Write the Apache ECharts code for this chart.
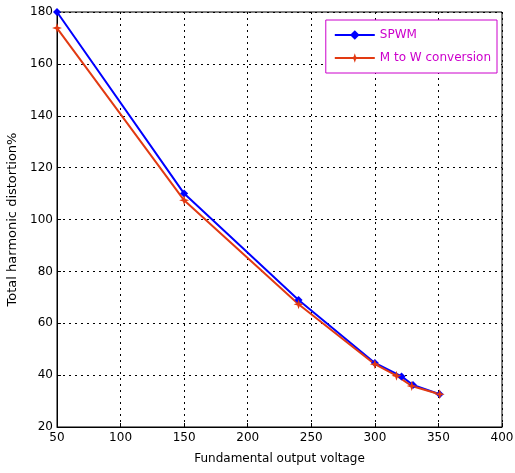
<!DOCTYPE html>
<html>
<head>
<meta charset="utf-8">
<script src="https://cdn.jsdelivr.net/npm/echarts@6/dist/echarts.min.js"></script>
<style>
  html, body { margin: 0; padding: 0; background: #fff; }
  #chart { width: 515px; height: 473px; }
</style>
</head>
<body>
<div id="chart"></div>
<script>
// valores
const voltajeSpwm = [50, 150, 240, 300, 321, 330, 351];
const thdSpwm = [180, 110, 69, 44.7, 39.5, 36.2, 32.6];
const voltajeMW = [50, 150, 240, 300, 317, 329, 351];
const thdMW = [173.8, 107.4, 67.3, 44.2, 39.8, 35.8, 32.6];

const pares = (xs, ys) => xs.map((x, i) => [x, ys[i]]);

var myChart = echarts.init(document.getElementById('chart'));
var option;

option = {
    backgroundColor: '#fff',
    animation: false,
    textStyle: { fontFamily: 'DejaVu Sans' },
    grid: {
        left: 57, right: 13, top: 12, bottom: 46,
        outerBoundsMode: 'none',
        containLabel: false,
        show: true, borderColor: '#000', borderWidth: 1
    },
    legend: {
        orient: 'vertical',
        right: 18,
        top: 20,
        itemWidth: 40,
        itemHeight: 12,
        itemGap: 11,
        padding: [9, 6, 9, 8],
        borderColor: '#cc00cc',
        borderWidth: 1,
        backgroundColor: '#fff',
        textStyle: { color: '#cc00cc', fontSize: 12 },
        data: ['SPWM', 'M to W conversion']
    },
    xAxis: {
        type: 'value',
        min: 50, max: 400, interval: 50,
        name: 'Fundamental output voltage',
        nameLocation: 'middle',
        nameGap: 26,
        nameTextStyle: { color: '#000', fontSize: 12 },
        axisLine: { lineStyle: { color: '#000' } },
        axisTick: { inside: true, length: 4, lineStyle: { color: '#000' } },
        axisLabel: { color: '#000', fontSize: 12, margin: 5 },
        splitLine: { show: true, lineStyle: { color: '#000', type: [2, 4], width: 1 } }
    },
    yAxis: {
        type: 'value',
        min: 20, max: 180, interval: 20,
        name: 'Total harmonic distortion%',
        nameLocation: 'middle',
        nameGap: 32,
        nameTextStyle: { color: '#000', fontSize: 13 },
        axisLine: { lineStyle: { color: '#000' } },
        axisTick: { inside: true, length: 4, lineStyle: { color: '#000' } },
        axisLabel: { color: '#000', fontSize: 12, margin: 4 },
        splitLine: { show: true, lineStyle: { color: '#000', type: [2, 4], width: 1 } }
    },
    series: [
        {
            name: 'SPWM',
            type: 'line',
            data: pares(voltajeSpwm, thdSpwm),
            symbol: 'diamond',
            symbolSize: 8,
            showAllSymbol: true,
            itemStyle: { color: '#0000ff' },
            lineStyle: { color: '#0000ff', width: 2 }
        },
        {
            name: 'M to W conversion',
            type: 'line',
            data: pares(voltajeMW, thdMW),
            symbol: 'path://M0,-10 L2.5,-2.5 L10,0 L2.5,2.5 L0,10 L-2.5,2.5 L-10,0 L-2.5,-2.5 Z',
            symbolSize: 10,
            showAllSymbol: true,
            itemStyle: { color: '#e23a12' },
            lineStyle: { color: '#e23a12', width: 2 }
        }
    ]
};

option && myChart.setOption(option);
</script>
</body>
</html>
